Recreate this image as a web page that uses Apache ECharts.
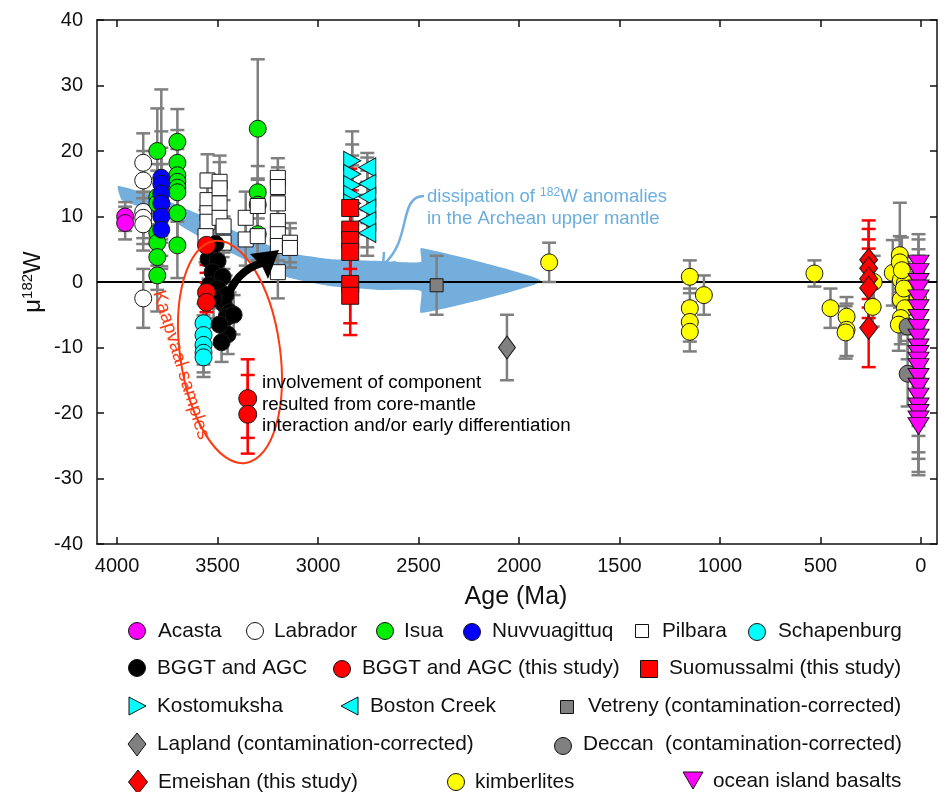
<!DOCTYPE html>
<html><head><meta charset="utf-8">
<script src="https://cdn.jsdelivr.net/npm/echarts@6/dist/echarts.min.js"></script>
<style>html,body{margin:0;padding:0;background:#fff}#c{width:949px;height:792px}</style>
</head><body><div id="c"></div>
<script>
// ---- data: [age (Ma), mu182W, error] ----
const xTicks = [0,500,1000,1500,2000,2500,3000,3500,4000];
const acasta = [[3960,10,2.2],[3960,9,2.5],[3780,12,3],[3780,10.5,3]];
const labrador = [[3870,18.2,4.5],[3870,15.5,4.5],[3870,10.7,4],[3870,9.8,4],[3870,8.8,4],[3870,-2.5,4.5]];
const isua = [[3800,20,6.5],[3800,13,5],[3800,12,5],[3800,7.5,5],[3800,6,5],[3800,3.8,5],[3800,1,5.5],
  [3700,21.4,5],[3700,18.2,5],[3700,16.3,5],[3700,15.3,5],[3700,14.4,4.5],[3700,13.7,4.5],[3700,10.5,5],[3700,5.6,5],
  [3300,23.4,10.6],[3300,13.7,4],[3300,11.8,4],[3300,7.3,4]];
const nuvvuagittuq = [[3780,15.9,13.5],[3780,15,8],[3780,13.5,7],[3780,12,6],[3780,10,6],[3780,8,6]];
const pilbara = [[3550,15.5,4],[3550,12.5,4],[3550,10.5,4],[3550,9.2,4],[3560,7,4],[3490,15.3,4],[3490,14.3,4],
  [3490,12,4],[3490,9.8,4],[3470,8.5,4],[3470,6,4],[3360,9.8,4],[3360,6.5,4],[3300,11.6,4],[3300,7,4],
  [3200,15.9,3],[3200,14.5,3],[3200,12,4],[3200,9.3,4],[3200,7.3,4],[3200,5.5,4],[3200,1.5,4],[3140,6,3],[3140,5.2,3]];
const schapenburg = [[3570,-6.3,3],[3570,-8.1,3],[3570,-9.6,3],[3570,-10.8,3],[3570,-11.5,3]];
const bggt = [[3510,5.8,3],[3545,3.5,3],[3500,3.2,3],[3525,1.5,3],[3475,0.8,3],[3540,-0.5,3],[3500,-1,3],[3460,-2,3],
  [3470,-3.3,3],[3440,-4.6,3],[3455,-5.4,3],[3450,-8,3],[3480,-9.2,3],[3420,-5,3],[3490,-6.5,3],[3520,-2.5,3]];
const bggtThis = [[3555,5.6,3],[3555,-1.6,3],[3555,-3.1,3],[3350,-17.8,6],[3350,-20.2,6]];
const suomussalmi = [[2840,11.3,6],[2840,8,6],[2840,6.4,6],[2840,4.6,6],[2840,-0.3,6],[2840,-2.1,6]];
const kostomuksha = [[2830,18.5,4.5],[2830,16.5,4.5],[2830,14.8,4.5],[2830,13.3,4.5],[2830,12,4.5]];
const bostonCreek = [[2755,17.5,2.2],[2755,15,4],[2755,13,4],[2755,11.2,4],[2755,9.3,4],[2755,7.5,3.5]];
const vetreny = [[2410,-0.5,4.5]];
const lapland = [[2060,-10,5]];
const deccan = [[66,-6.8,5],[66,-14,5]];
const emeishan = [[260,3.4,6],[260,2.1,6],[260,0.5,6],[260,-0.9,6],[260,-7,6]];
const kimberlites = [[1850,3,3],[1150,0.8,2.5],[1150,-4,3],[1150,-6.1,3],[1150,-7.6,3],[1080,-2,3],
  [530,1.3,2],[450,-4,3],[370,-5.3,3],[370,-7.3,4],[375,-7.7,4],[240,-3.8,3],[235,0,4],
  [140,1.4,5],[105,4.1,8],[105,3,4],[100,0.3,4],[80,-0.2,4],[100,-2.7,4],[80,-4,4],[100,-5.5,4],[110,-6.5,4],
  [15,-2.5,4],[95,1.8,5],[85,-1,4]];
const oib = [[12,2.8,4.5],[12,1.5,5],[12,0,5],[12,-1,5],[12,-2.5,5],[12,-4,5],[12,-5.5,5],[12,-7,5],[12,-8.5,5],
  [12,-10,5],[12,-11,5],[12,-12,5],[12,-13,5],[12,-14.5,5],[12,-16,6],[12,-17.5,6],[12,-19,7],[12,-20,7],[12,-21,8],[12,-22,7.5]];

const FONT = 'Liberation Sans, Arial, sans-serif';
const GREY = '#7f7f7f', RED = '#ff0000';

function errSeries(data, color){
  return {type:'custom', data, z:2, silent:true,
    renderItem(params, api){
      const x=api.value(0), y=api.value(1), e=api.value(2);
      const t=api.coord([x,y+e]), b=api.coord([x,y-e]); const w=7;
      const st={stroke:color,lineWidth:2.5};
      return {type:'group',children:[
        {type:'line',shape:{x1:t[0],y1:t[1],x2:b[0],y2:b[1]},style:st},
        {type:'line',shape:{x1:t[0]-w,y1:t[1],x2:t[0]+w,y2:t[1]},style:st},
        {type:'line',shape:{x1:b[0]-w,y1:b[1],x2:b[0]+w,y2:b[1]},style:st}]};
    }};
}
function sc(data, symbol, size, color, rot){
  return {type:'scatter', data, symbol, symbolSize:size, symbolRotate:rot||0, z:3,
    itemStyle:{color, borderColor:'#1a1a1a', borderWidth:1, opacity:1}, emphasis:{disabled:true}};
}
const groups = [
  [acasta,'circle',17,'#ff00ff',0,GREY],
  [labrador,'circle',17,'#ffffff',0,GREY],
  [isua,'circle',17,'#00ee00',0,GREY],
  [nuvvuagittuq,'circle',17,'#0000ff',0,GREY],
  [pilbara,'rect',15,'#ffffff',0,GREY],
  [schapenburg,'circle',17,'#00ffff',0,GREY],
  [bggt,'circle',17,'#000000',0,GREY],
  [bggtThis,'circle',18,'#ff0000',0,RED],
  [kostomuksha,'triangle',[19,17],'#00ffff',-90,GREY],
  [bostonCreek,'triangle',[19,17],'#00ffff',90,GREY],
  [suomussalmi,'rect',17,'#ff0000',0,RED],
  [vetreny,'rect',13,'#808080',0,GREY],
  [lapland,'diamond',[17,23],'#808080',0,GREY],
  [kimberlites,'circle',17,'#ffff00',0,GREY],
  [deccan,'circle',17,'#808080',0,GREY],
  [emeishan,'diamond',[18,23],'#ff0000',0,RED],
  [oib,'triangle',[21,17],'#ff00ff',180,GREY]
];
const series = [];
groups.forEach(g=>series.push(errSeries(g[0],g[5])));
groups.forEach(g=>series.push(sc(g[0],g[1],g[2],g[3],g[4])));
series[series.length-1].markLine = {silent:true, symbol:'none', label:{show:false},
  lineStyle:{color:'#000',width:2,type:'solid'}, data:[{yAxis:0}], z:2};

// ---- legend (graphic) ----
const L = [];
const LF = '20.8px '+FONT;
function ltext(x,y,t){L.push({type:'text',x,y,z:20,style:{text:t,font:LF,fill:'#111',textVerticalAlign:'middle'}});}
function lcirc(x,y,c){L.push({type:'circle',z:20,shape:{cx:x,cy:y,r:8.5},style:{fill:c,stroke:'#111',lineWidth:1}});}
function lrect(x,y,s,c){L.push({type:'rect',z:20,shape:{x:x-s/2,y:y-s/2,width:s,height:s},style:{fill:c,stroke:'#111',lineWidth:1}});}
function lpoly(pts,c){L.push({type:'polygon',z:20,shape:{points:pts},style:{fill:c,stroke:'#111',lineWidth:1}});}
lcirc(137,631,'#ff00ff'); ltext(158,631,'Acasta');
lcirc(255,631,'#ffffff'); ltext(274,631,'Labrador');
lcirc(385,631,'#00ee00'); ltext(404,631,'Isua');
lcirc(472,632,'#0000ff'); ltext(492,631,'Nuvvuagittuq');
lrect(642,631,13,'#ffffff'); ltext(662,631,'Pilbara');
lcirc(757,632,'#00ffff'); ltext(778,631,'Schapenburg');
lcirc(137,668,'#000000'); ltext(157,668,'BGGT and AGC');
lcirc(342,669,'#ff0000'); ltext(362,668,'BGGT and AGC (this study)');
lrect(649,669,17,'#ff0000'); ltext(669,668,'Suomussalmi (this study)');
lpoly([[129,697],[146,706],[129,715]],'#00ffff'); ltext(157,706,'Kostomuksha');
lpoly([[358,697],[341,706],[358,715]],'#00ffff'); ltext(370,706,'Boston Creek');
lrect(567,707,13,'#808080'); ltext(588,706,'Vetreny (contamination-corrected)');
lpoly([[137,733],[146,744],[137,756],[128,744]],'#808080'); ltext(157,744,'Lapland (contamination-corrected)');
lcirc(563,746,'#808080'); ltext(583,744,'Deccan  (contamination-corrected)');
lpoly([[138,770],[147.5,782],[138,794],[128.5,782]],'#ff0000'); ltext(158,782,'Emeishan (this study)');
lcirc(456,782,'#ffff00'); ltext(475,782,'kimberlites');
lpoly([[683,772],[703,772],[693,789]],'#ff00ff'); ltext(713,781,'ocean island basalts');

// ---- annotations ----
const A = [];
A.push({type:'polygon',z:1,shape:{points:[[118,186],[160,198],[205,217],[250,238],[290,253],[330,259],[380,261],[421,262],[421,248],[541,281],[421,313],[421,291],[380,290],[330,286],[290,278],[250,262],[205,240],[160,214],[122,200]],smooth:0.15},
  style:{fill:'#74aedd',stroke:null}});
A.push({type:'bezierCurve',z:10,shape:{x1:424,y1:196,cpx1:398,cpy1:196,cpx2:412,cpy2:240,x2:384,y2:264},style:{stroke:'#74aedd',lineWidth:2.5,fill:null}});
A.push({type:'polyline',z:10,shape:{points:[[384,252],[383,265],[396,262]]},style:{stroke:'#74aedd',lineWidth:2.5,fill:null}});
A.push({type:'text',x:427,y:197,z:10,style:{text:'{t|dissipation of }{s|182}{t|W anomalies}',textVerticalAlign:'middle',
  rich:{t:{fontFamily:FONT,fontSize:18.5,fill:'#6aaee0'},s:{fontFamily:FONT,fontSize:12,fill:'#6aaee0',padding:[0,0,8,0]}}}});
A.push({type:'text',x:427,y:219,z:10,style:{text:'in the Archean upper mantle',font:'18.5px '+FONT,fill:'#6aaee0',textVerticalAlign:'middle'}});
A.push({type:'ellipse',z:10,x:230,y:352,rotation:0.14,shape:{cx:0,cy:0,rx:50,ry:112},style:{fill:null,stroke:'#ff3a12',lineWidth:2}});
A.push({type:'text',z:10,x:181,y:365,rotation:-1.27,style:{text:'Kaapvaal samples',font:'19px '+FONT,fill:'#ff3a12',textAlign:'center',textVerticalAlign:'middle'}});
A.push({type:'bezierCurve',z:10,shape:{x1:226,y1:302,cpx1:232,cpy1:280,cpx2:245,cpy2:268,x2:262,y2:263},style:{stroke:'#000',lineWidth:8,fill:null}});
A.push({type:'polygon',z:10,shape:{points:[[250,254],[279,250],[268,279],[262,266]]},style:{fill:'#000'}});
['involvement of component','resulted from core-mantle','interaction and/or early differentiation'].forEach((t,i)=>{
  A.push({type:'text',z:10,x:262,y:383+i*21.5,style:{text:t,font:'18.8px '+FONT,fill:'#000',textVerticalAlign:'middle'}});
});
A.push({type:'text',z:10,x:516,y:597,style:{text:'Age (Ma)',font:'25px '+FONT,fill:'#111',textAlign:'center',textVerticalAlign:'middle'}});
A.push({type:'text',z:10,x:33,y:282,rotation:Math.PI/2,style:{text:'{t|μ}{s|182}{t|W}',textAlign:'center',textVerticalAlign:'middle',
  rich:{t:{fontFamily:FONT,fontSize:24,fill:'#111'},s:{fontFamily:FONT,fontSize:15,fill:'#111',padding:[0,0,10,0]}}}});

const chart = echarts.init(document.getElementById('c'), null, {renderer:'canvas'});
chart.setOption({
  animation:false,
  grid:{left:97,right:12,top:20,bottom:248},
  xAxis:[{type:'value',inverse:true,min:-80,max:4100,
      axisLine:{show:true,onZero:false,lineStyle:{color:'#111',width:1.5}},
      axisTick:{inside:true,length:7,customValues:xTicks,lineStyle:{color:'#111',width:1.5}},
      axisLabel:{customValues:xTicks,formatter:v=>String(v),fontFamily:FONT,fontSize:20,color:'#111',margin:12},
      splitLine:{show:false}},
    {type:'value',inverse:true,min:-80,max:4100,position:'top',
      axisLine:{show:true,onZero:false,lineStyle:{color:'#111',width:1.5}},
      axisTick:{inside:true,length:7,customValues:xTicks,lineStyle:{color:'#111',width:1.5}},
      axisLabel:{show:false},splitLine:{show:false}}],
  yAxis:[{type:'value',min:-40,max:40,interval:10,
      axisLine:{show:true,onZero:false,lineStyle:{color:'#111',width:1.5}},
      axisTick:{inside:true,length:7,lineStyle:{color:'#111',width:1.5}},
      axisLabel:{fontFamily:FONT,fontSize:20,color:'#111',margin:14},
      splitLine:{show:false}},
    {type:'value',min:-40,max:40,interval:10,position:'right',
      axisLine:{show:true,onZero:false,lineStyle:{color:'#111',width:1.5}},
      axisTick:{inside:true,length:7,lineStyle:{color:'#111',width:1.5}},
      axisLabel:{show:false},splitLine:{show:false}}],
  series,
  graphic:{elements:A.concat(L)}
});
</script></body></html>
